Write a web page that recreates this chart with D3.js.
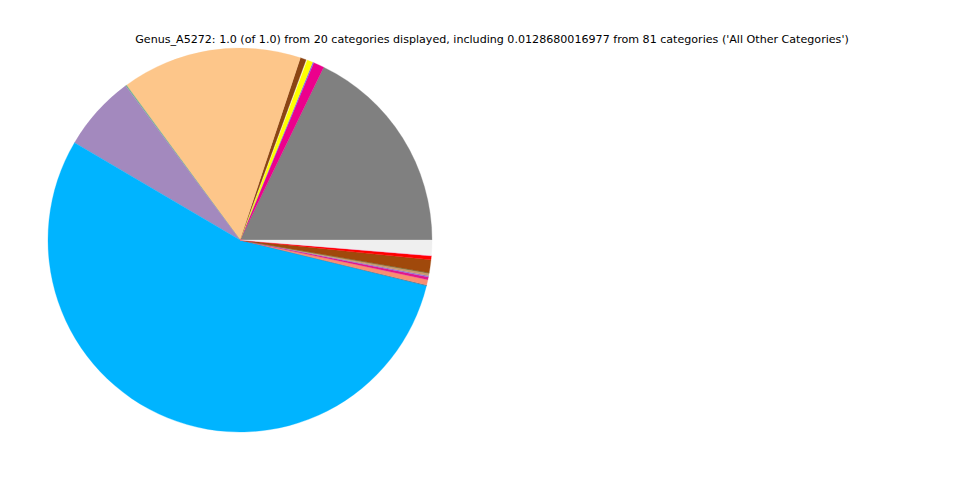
<!DOCTYPE html>
<html>
<head>
<meta charset="utf-8">
<script src="https://cdn.jsdelivr.net/npm/d3@7"></script>
<style>
  html, body { margin: 0; padding: 0; background: #fff; }
  svg { display: block; }
</style>
</head>
<body>
<svg id="chart" width="960" height="480"></svg>
<script>
const titleText = "Genus_A5272: 1.0 (of 1.0) from 20 categories displayed, including 0.0128680016977 from 81 categories ('All Other Categories')";

const categories = [
  "Genus_01", "Genus_02", "Genus_03", "Genus_04", "Genus_05",
  "Genus_06", "Genus_07", "Genus_08", "Genus_09", "Genus_10",
  "Genus_11", "Genus_12", "Genus_13", "Genus_14", "Genus_15",
  "Genus_16", "Genus_17", "Genus_18", "Genus_19", "All Other Categories"
];
const values = [
  0.1780, 0.0090, 0.0010, 0.0050, 0.0008,
  0.0050, 0.1514, 0.0010, 0.0636, 0.5457,
  0.0006, 0.0045, 0.0022, 0.0010, 0.0023,
  0.0004, 0.0107, 0.0033, 0.0003, 0.012868
];
const colors = [
  "#808080", "#ec008c", "#7b68ee", "#ffff00", "#fffacd",
  "#8b4513", "#fdc68a", "#6aaf8a", "#a389be", "#00b4ff",
  "#4a6f8a", "#f98e72", "#e2178c", "#9370db", "#c89a6e",
  "#556b2f", "#a0490b", "#ff0000", "#ff69b4", "#efefef"
];

const data = categories.map((c, i) => ({ name: c, value: values[i], color: colors[i] }));

const svg = d3.select("#chart");
const cx = 240, cy = 240, r = 192;

const pie = d3.pie()
  .value(d => d.value)
  .sort(null)
  .startAngle(Math.PI / 2)
  .endAngle(Math.PI / 2 - 2 * Math.PI);

const arc = d3.arc().innerRadius(0).outerRadius(r);

svg.append("g")
  .attr("transform", `translate(${cx},${cy})`)
  .selectAll("path")
  .data(pie(data))
  .join("path")
  .attr("d", arc)
  .attr("fill", d => d.data.color)
  .attr("stroke", d => d.data.color)
  .attr("stroke-width", 0.3);

svg.append("text")
  .attr("x", 492)
  .attr("y", 43)
  .attr("text-anchor", "middle")
  .attr("font-family", "DejaVu Sans, sans-serif")
  .attr("font-size", "11.1px")
  .attr("fill", "#000")
  .text(titleText);
</script>
</body>
</html>
